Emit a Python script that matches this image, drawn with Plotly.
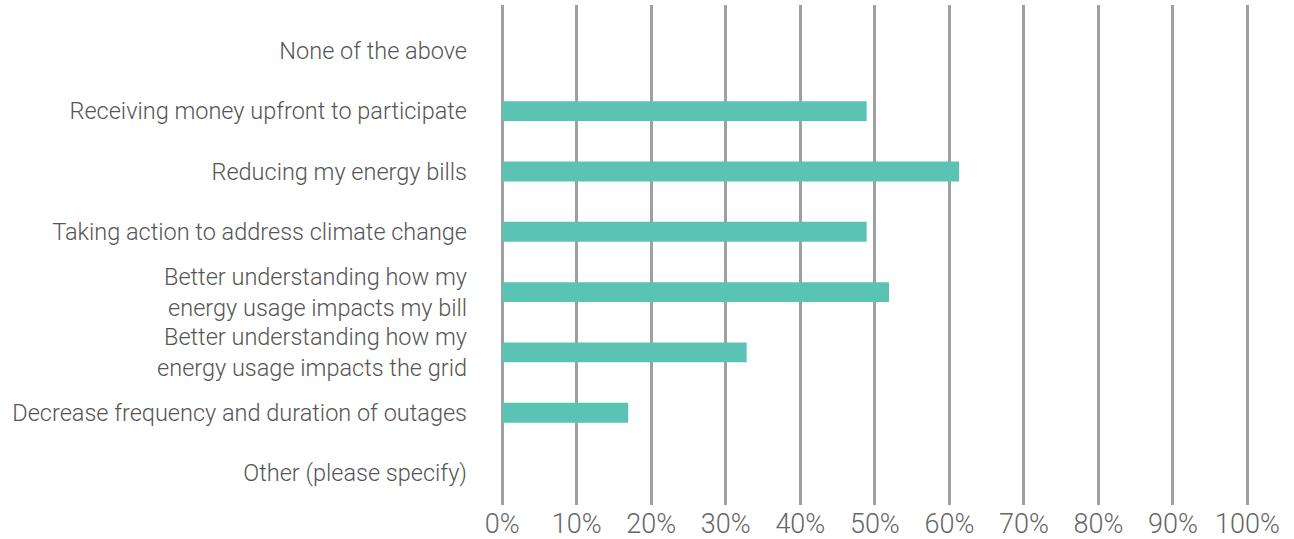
import plotly.graph_objects as go

categories = [
    "None of the above",
    "Receiving money upfront to participate",
    "Reducing my energy bills",
    "Taking action to address climate change",
    "Better understanding how my<br>energy usage impacts my bill",
    "Better understanding how my<br>energy usage impacts the grid",
    "Decrease frequency and duration of outages",
    "Other (please specify)",
]
values = [0.0, 48.9, 61.3, 48.9, 51.9, 32.8, 16.9, 0.0]
tick_values = [0, 10, 20, 30, 40, 50, 60, 70, 80, 90, 100]
tick_labels = [f"{v}%" for v in tick_values]

FONT = "Roboto"

fig = go.Figure(
    go.Bar(
        x=values,
        y=categories,
        orientation="h",
        marker=dict(color="#5BC3B4", line=dict(width=0)),
    )
)

fig.update_layout(
    width=1294,
    height=539,
    margin=dict(l=500, r=45, t=5, b=34, autoexpand=False),
    paper_bgcolor="white",
    plot_bgcolor="white",
    bargap=0.67,
    showlegend=False,
    font=dict(family=FONT, weight=300, color="#555555"),
)

fig.update_xaxes(
    range=[-0.3, 100.2],
    tickvals=tick_values,
    ticktext=tick_labels,
    showgrid=True,
    gridcolor="#A0A0A3",
    gridwidth=2.5,
    zeroline=False,
    showline=False,
    ticks="",
    ticklabelstandoff=0,
    automargin=False,
    tickfont=dict(size=27, color="#666666", family=FONT, weight=300),
    fixedrange=True,
)

fig.update_yaxes(
    type="category",
    categoryorder="array",
    categoryarray=categories,
    range=[7.53, -0.76],
    showgrid=False,
    zeroline=False,
    showline=False,
    ticks="",
    ticklabelstandoff=32,
    automargin=False,
    tickfont=dict(size=23.5, color="#555555", family=FONT, weight=300),
    fixedrange=True,
)

fig.write_html(
    "out.html",
    config={"displayModeBar": False},
    post_script="document.body.style.margin='0';document.body.style.overflow='hidden';",
)
